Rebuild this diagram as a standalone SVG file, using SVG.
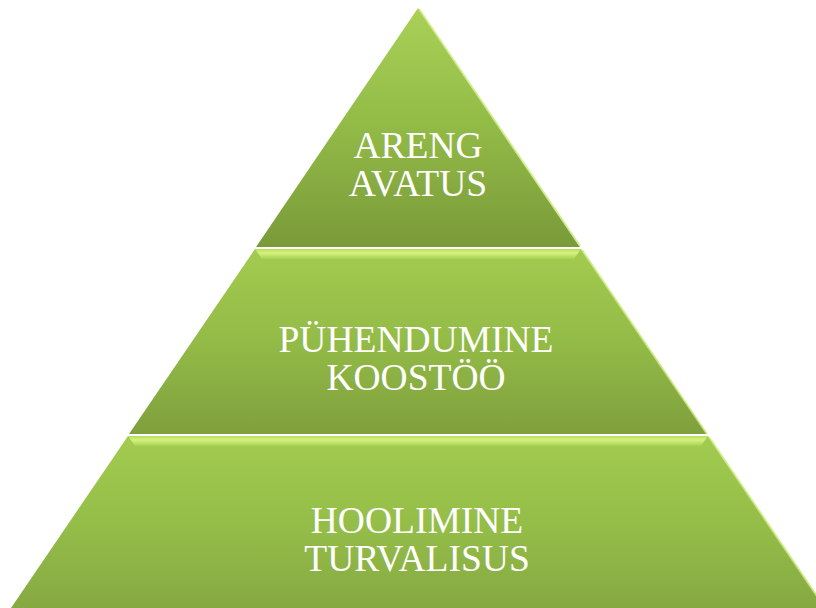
<svg xmlns="http://www.w3.org/2000/svg" width="816" height="608" viewBox="0 0 816 608">
<defs>
<linearGradient id="gTop" x1="0" y1="8" x2="0" y2="248" gradientUnits="userSpaceOnUse">
<stop offset="0" stop-color="#a9d158"/>
<stop offset="0.45" stop-color="#94bd48"/>
<stop offset="1" stop-color="#7a9a3a"/>
</linearGradient>
<linearGradient id="gMid" x1="0" y1="249" x2="0" y2="435" gradientUnits="userSpaceOnUse">
<stop offset="0" stop-color="#a2cb4f"/>
<stop offset="0.5" stop-color="#93bb47"/>
<stop offset="1" stop-color="#7f9f3d"/>
</linearGradient>
<linearGradient id="gBot" x1="0" y1="436" x2="0" y2="608" gradientUnits="userSpaceOnUse">
<stop offset="0" stop-color="#a2cb4f"/>
<stop offset="0.5" stop-color="#95be49"/>
<stop offset="1" stop-color="#86a942"/>
</linearGradient>
<linearGradient id="gStrip" x1="0" y1="0" x2="0" y2="1">
<stop offset="0" stop-color="#b6dc5c"/>
<stop offset="0.4" stop-color="#d6f27f"/>
<stop offset="1" stop-color="#a8d052"/>
</linearGradient>
<style>
.lbl{font-family:"Liberation Serif","Times New Roman",serif;font-size:37.5px;fill:#ffffff;text-anchor:middle}
.edge{fill:none;stroke:#c9ea7c;stroke-width:2;opacity:0.8}
</style>
</defs>
<rect width="816" height="608" fill="#ffffff"/>
<g id="tier-top">
<polygon points="418,8 580,247 256,247" fill="url(#gTop)"/>
<line class="edge" x1="419" y1="9" x2="580" y2="246"/>
<text class="lbl" x="418" y="158">ARENG</text>
<text class="lbl" x="418" y="196">AVATUS</text>
</g>
<g id="tier-middle">
<polygon points="255,249 581,249 707,434 129,434" fill="url(#gMid)"/>
<polygon points="255,249 581,249 574,259 262,259" fill="url(#gStrip)"/>
<line class="edge" x1="582" y1="250" x2="707" y2="434"/>
<text class="lbl" x="416" y="352">PÜHENDUMINE</text>
<text class="lbl" x="416" y="390">KOOSTÖÖ</text>
</g>
<g id="tier-bottom">
<polygon points="128,436 708,436 825,608 11,608" fill="url(#gBot)"/>
<polygon points="128,436 708,436 701,446 135,446" fill="url(#gStrip)"/>
<line class="edge" x1="709" y1="437" x2="825" y2="608"/>
<text class="lbl" x="417" y="533">HOOLIMINE</text>
<text class="lbl" x="417" y="571">TURVALISUS</text>
</g>
<g id="connectors"></g>
</svg>
